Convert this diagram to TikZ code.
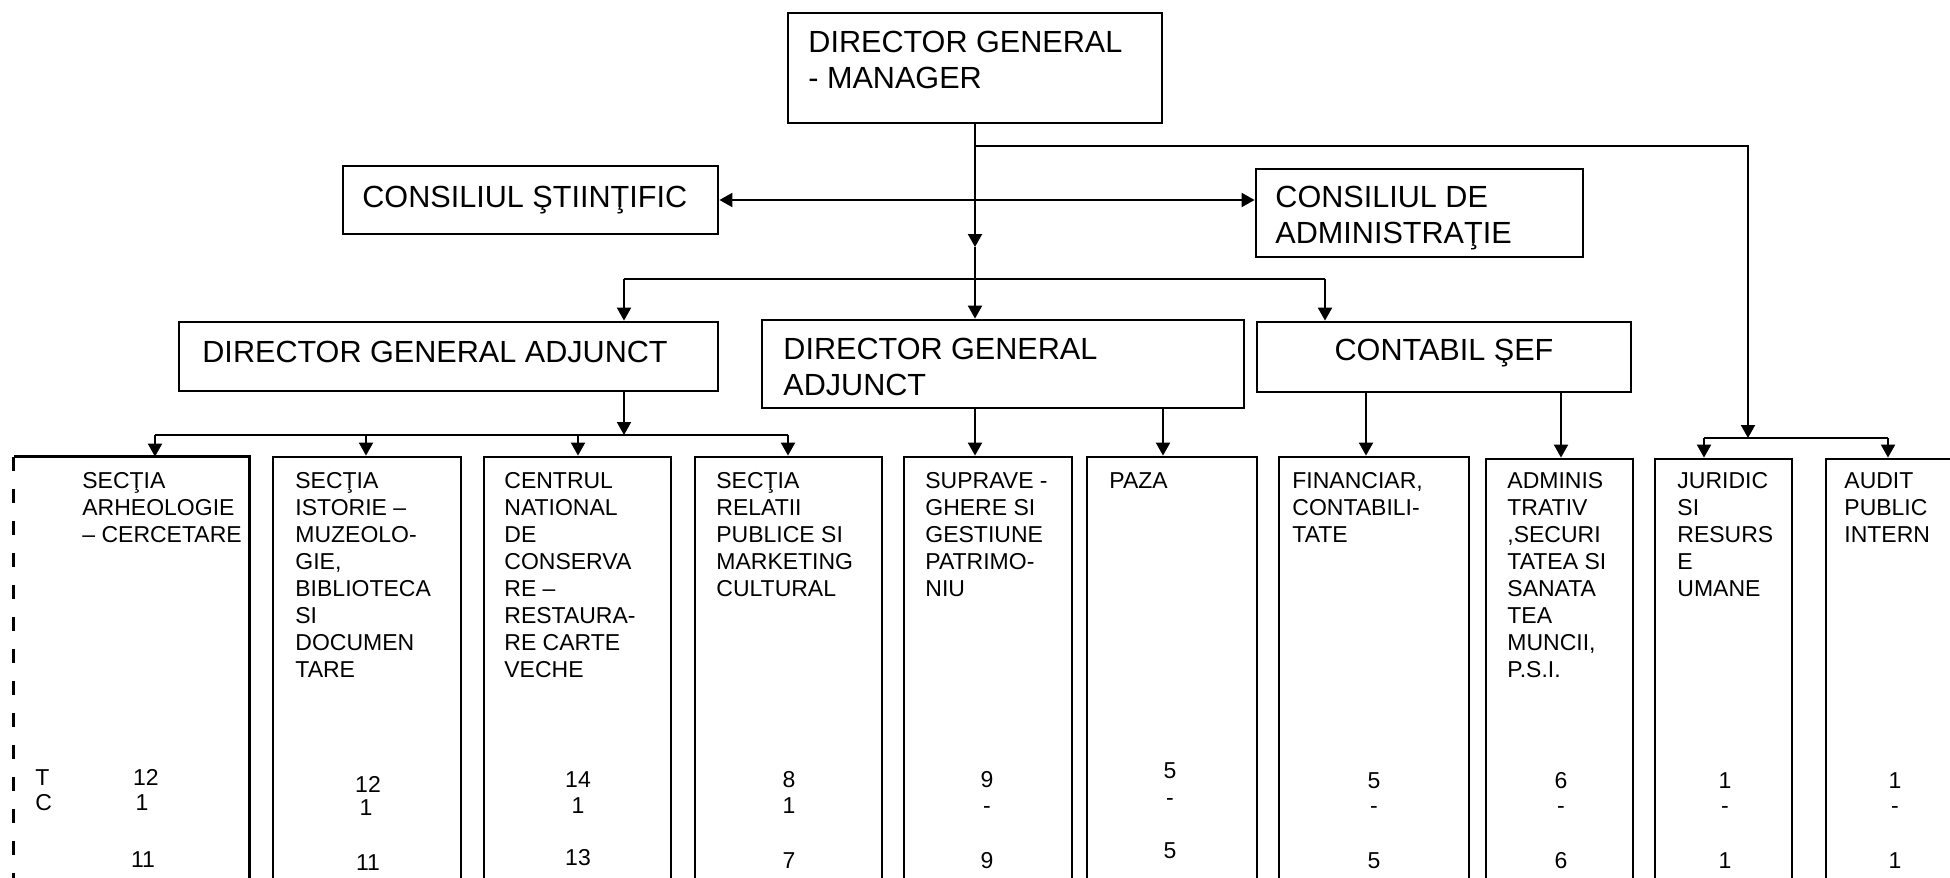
\documentclass[tikz,border=0pt]{standalone}
\usepackage{fontspec}
\setmainfont{Liberation Sans}
\usetikzlibrary{arrows.meta,fit}
\newcommand\stk[1]{\begin{tabular}[t]{@{}l@{}}#1\end{tabular}}
\begin{document}
\begin{tikzpicture}[x=0.5pt,y=-0.5pt,
  box/.style={draw,line width=1.4pt,inner sep=0pt},
  boxline/.style={line width=1.4pt},
  upper/.style={font=\fontsize{15.3}{18}\selectfont,inner sep=0pt,anchor=base west},
  lower/.style={font=\fontsize{11.5}{13.5}\selectfont,inner sep=0pt,anchor=base west},
  num/.style={font=\fontsize{11.5}{13.5}\selectfont,inner sep=0pt,anchor=base},
  conn/.style={line width=1pt},
  arr/.style={conn,-{Triangle[width=7pt,length=6.5pt]}},
  darr/.style={conn,{Triangle[width=7pt,length=6.5pt]}-{Triangle[width=7pt,length=6.5pt]}},
]
\useasboundingbox (0,0) rectangle (1950,878);
\clip (0,0) rectangle (1950,878);

% ---------- upper tiers ----------
\node[box,fit={(788,13) (1162,123)}] (top) {};
\node[upper] (toptx) at (808,52) {\stk{DIRECTOR GENERAL\\- MANAGER}};

\node[box,fit={(343,166) (718,234)}] (cs) {};
\node[upper] (cstx) at (362,207) {CONSILIUL ŞTIINŢIFIC};

\node[box,fit={(1256,169) (1583,257)}] (cda) {};
\node[upper] (cdatx) at (1275,207) {\stk{CONSILIUL DE\\ADMINISTRAŢIE}};

\node[box,fit={(179,322) (718,391)}] (dga1) {};
\node[upper] (dga1tx) at (202,362) {DIRECTOR GENERAL ADJUNCT};

\node[box,fit={(762,320) (1244,408)}] (dga2) {};
\node[upper] (dga2tx) at (783,359) {\stk{DIRECTOR GENERAL\\ADJUNCT}};

\node[box,fit={(1257,322) (1631,392)}] (cf) {};
\node[upper,anchor=base] (cftx) at (1444,360) {CONTABIL ŞEF};

% ---------- bottom boxes ----------
\node[fit={(14,457) (249,890)},inner sep=0pt] (b1) {};
\draw[boxline] (b1.south east) -- (b1.north east) -- (b1.north west);
\draw[boxline,dash pattern=on 7pt off 9pt] (b1.north west) -- (b1.south west);
\node[box,fit={(273,457) (461,890)}] (b2) {};
\node[box,fit={(484,457) (671,890)}] (b3) {};
\node[box,fit={(695,457) (882,890)}] (b4) {};
\node[box,fit={(904,457) (1072,890)}] (b5) {};
\node[box,fit={(1087,457) (1257,890)}] (b6) {};
\node[box,fit={(1279,457) (1469,890)}] (b7) {};
\node[box,fit={(1486,459) (1633,890)}] (b8) {};
\node[box,fit={(1655,459) (1792,890)}] (b9) {};
\node[box,fit={(1826,459) (1990,890)}] (b10) {};

\node[lower] (b1tx) at (82,488) {\stk{SECŢIA\\ARHEOLOGIE\\– CERCETARE}};
\node[lower] (b2tx) at (295,488) {\stk{SECŢIA\\ISTORIE –\\MUZEOLO-\\GIE,\\BIBLIOTECA\\SI\\DOCUMEN\\TARE}};
\node[lower] (b3tx) at (504,488) {\stk{CENTRUL\\NATIONAL\\DE\\CONSERVA\\RE –\\RESTAURA-\\RE CARTE\\VECHE}};
\node[lower] (b4tx) at (716,488) {\stk{SECŢIA\\RELATII\\PUBLICE SI\\MARKETING\\CULTURAL}};
\node[lower] (b5tx) at (925,488) {\stk{SUPRAVE -\\GHERE SI\\GESTIUNE\\PATRIMO-\\NIU}};
\node[lower] (b6tx) at (1109,488) {PAZA};
\node[lower] (b7tx) at (1292,488) {\stk{FINANCIAR,\\CONTABILI-\\TATE}};
\node[lower] (b8tx) at (1507,488) {\stk{ADMINIS\\TRATIV\\,SECURI\\TATEA SI\\SANATA\\TEA\\MUNCII,\\P.S.I.}};
\node[lower] (b9tx) at (1677,488) {\stk{JURIDIC\\SI\\RESURS\\E\\UMANE}};
\node[lower] (b10tx) at (1844,488) {\stk{AUDIT\\PUBLIC\\INTERN}};

% ---------- staff numbers ----------
\node[lower] (lt) at (35,785) {T};
\node[lower] (lc) at (35,810) {C};
\node[num] (n1a) at (146,785) {12};
\node[num] (n1b) at (142,810) {1};
\node[num] (n1c) at (143,867) {11};
\node[num] (n2a) at (368,792) {12};
\node[num] (n2b) at (366,815) {1};
\node[num] (n2c) at (368,870) {11};
\node[num] (n3a) at (578,787) {14};
\node[num] (n3b) at (578,813) {1};
\node[num] (n3c) at (578,865) {13};
\node[num] (n4a) at (789,787) {8};
\node[num] (n4b) at (789,813) {1};
\node[num] (n4c) at (789,868) {7};
\node[num] (n5a) at (987,787) {9};
\node[num] (n5b) at (987,813) {-};
\node[num] (n5c) at (987,868) {9};
\node[num] (n6a) at (1170,778) {5};
\node[num] (n6b) at (1170,805) {-};
\node[num] (n6c) at (1170,858) {5};
\node[num] (n7a) at (1374,788) {5};
\node[num] (n7b) at (1374,813) {-};
\node[num] (n7c) at (1374,868) {5};
\node[num] (n8a) at (1561,788) {6};
\node[num] (n8b) at (1561,813) {-};
\node[num] (n8c) at (1561,868) {6};
\node[num] (n9a) at (1725,788) {1};
\node[num] (n9b) at (1725,813) {-};
\node[num] (n9c) at (1725,868) {1};
\node[num] (n10a) at (1895,788) {1};
\node[num] (n10b) at (1895,813) {-};
\node[num] (n10c) at (1895,868) {1};

% ---------- connectors ----------
\coordinate (c1) at (975,146);
\coordinate (cm) at (975,247);
\coordinate (rh) at (1748,438);
\coordinate (rhl) at (1704,438);
\coordinate (rhr) at (1888,438);
\coordinate (h2l) at (624,279);
\coordinate (h2r) at (1325,279);
\coordinate (h3) at (624,435);
\coordinate (h3l) at (155,435);
\coordinate (h3b) at (366,435);
\coordinate (h3c) at (578,435);
\coordinate (h3r) at (788,435);

\draw[arr] (top.south) -- (cm);
\draw[arr] (cm) -- (cm |- dga2.north);
\draw[arr] (c1) -| (rh);
\draw[conn] (rhl) -- (rhr);
\draw[arr] (rhl) -- (rhl |- b9.north);
\draw[arr] (rhr) -- (rhr |- b10.north);

\draw[darr] (cs.east) -- (cs.east -| cda.west);

\draw[conn] (h2l) -- (h2r);
\draw[arr] (h2l) -- (h2l |- dga1.north);
\draw[arr] (h2r) -- (h2r |- cf.north);

\draw[arr] (h3 |- dga1.south) -- (h3);
\draw[conn] (h3l) -- (h3r);
\draw[arr] (h3l) -- (h3l |- b1.north);
\draw[arr] (h3b) -- (h3b |- b2.north);
\draw[arr] (h3c) -- (h3c |- b3.north);
\draw[arr] (h3r) -- (h3r |- b4.north);

\draw[arr] (cm |- dga2.south) -- (cm |- b5.north);
\draw[arr] (dga2.south -| 1163,0) -- (b6.north -| 1163,0);
\draw[arr] (cf.south -| 1366,0) -- (b7.north -| 1366,0);
\draw[arr] (cf.south -| 1561,0) -- (b8.north -| 1561,0);
\end{tikzpicture}
\end{document}
